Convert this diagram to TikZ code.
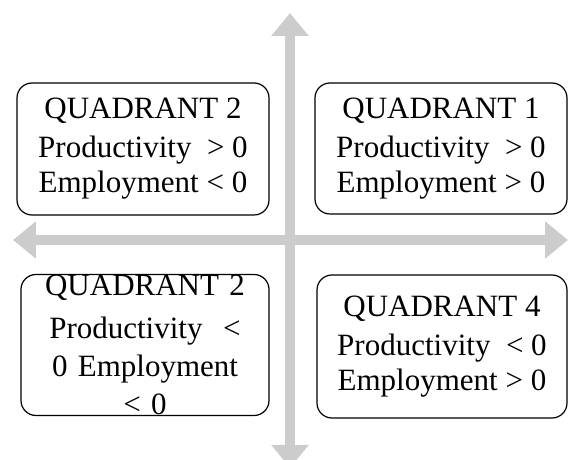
\documentclass[tikz,border=0pt]{standalone}
\usepackage{fontspec}
\setmainfont{Liberation Serif}
\usetikzlibrary{arrows.meta}

\definecolor{axisgray}{RGB}{204,204,204}
\newcommand\quadfont{\fontsize{31}{35}\selectfont\hyphenpenalty=10000\relax}

\tikzset{
    axis/.style={draw=axisgray, line width=10pt,
        {Triangle[width=36pt,length=23pt]}-{Triangle[width=36pt,length=23pt]}},
    quadbox/.style={draw, line width=1.2pt, rounded corners=15pt, inner sep=0pt},
    quadtext/.style={align=center, font=\quadfont}
}

\begin{document}
\begin{tikzpicture}[x=20pt, y=20pt]
    \useasboundingbox (-14.5,-11) rectangle (13.9,12);

    % axes
    \coordinate (west) at (-13.85,0);
    \coordinate (east) at (13.9,0);
    \coordinate (north) at (0,11.35);
    \coordinate (south) at (0,-11.4);
    \draw[axis] (west) -- (east);
    \draw[axis] (south) -- (north);

    % boxes
    \node[quadbox, minimum width=252pt, minimum height=131pt] (q1) at (7.55,4.575) {};
    \node[quadbox, minimum width=252pt, minimum height=132pt] (q2) at (-7.35,4.55) {};
    \node[quadbox, minimum width=248pt, minimum height=141pt] (q3) at (-7.25,-5.25) {};
    \node[quadbox, minimum width=250pt, minimum height=143pt] (q4) at (7.6,-5.325) {};

    \node[quadtext] (q1text) at (q1) {QUADRANT 1\\[4pt] Productivity~ > 0\\ Employment > 0};
    \node[quadtext] (q2text) at (q2) {QUADRANT 2\\[4pt] Productivity~ > 0\\ Employment < 0};
    \node[quadtext] (q4text) at (q4) {QUADRANT 4\\[4pt] Productivity~ < 0\\ Employment > 0};

    % this one runs over its box
    \begin{scope}
        \path[clip, rounded corners=15pt] (q3.south west) rectangle (q3.north east);
        \node[quadtext, font={\quadfont\baselineskip=38pt\relax}, text width=206pt] (q3text)
            at (q3) {QUADRANT 2\\[5pt] Productivity~ < 0 Employment < 0};
    \end{scope}

\end{tikzpicture}
\end{document}
